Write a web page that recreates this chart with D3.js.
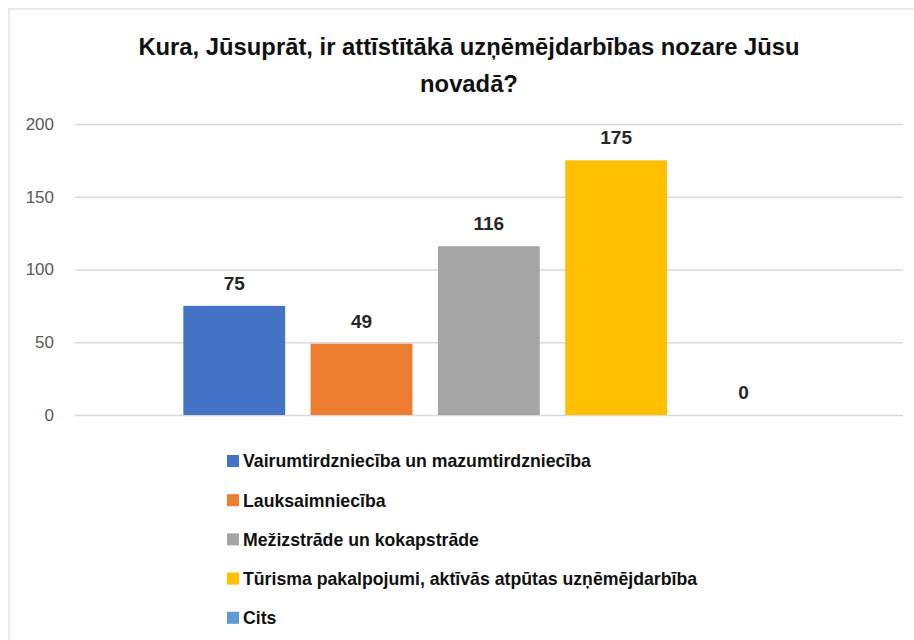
<!DOCTYPE html>
<html>
<head>
<meta charset="utf-8">
<script src="https://cdn.jsdelivr.net/npm/d3@7"></script>
<style>
  body { margin: 0; background: #fff; }
  text { font-family: "Liberation Sans", Arial, sans-serif; }
</style>
</head>
<body>
<svg></svg>
<script>
const width = 914;
const height = 640;

// dati
const categories = [
  "Vairumtirdzniecība un mazumtirdzniecība",
  "Lauksaimniecība",
  "Mežizstrāde un kokapstrāde",
  "Tūrisma pakalpojumi, aktīvās atpūtas uzņēmējdarbība",
  "Cits"
];
const values = [75, 49, 116, 175, 0];
const colors = ["#4472C4", "#ED7D31", "#A5A5A5", "#FFC000", "#5B9BD5"];
const yTicks = [0, 50, 100, 150, 200];
const titleLines = ["Kura, Jūsuprāt, ir attīstītākā uzņēmējdarbības nozare Jūsu", "novadā?"];

const svg = d3.select("svg")
  .attr("width", width)
  .attr("height", height);

// rāmis
svg.append("path")
  .attr("d", `M9,${height} L9,9 L${width},9`)
  .attr("fill", "none")
  .attr("stroke", "#e3e3e3")
  .attr("stroke-width", 1.5);

// virsraksts
svg.append("g")
  .selectAll("text")
  .data(titleLines)
  .join("text")
  .attr("x", 469)
  .attr("y", (d, i) => 55 + i * 37)
  .attr("text-anchor", "middle")
  .attr("font-size", 23.8)
  .attr("font-weight", "bold")
  .attr("fill", "#111")
  .text(d => d);

// skalas
const y = d3.scaleLinear().domain([0, 200]).range([415, 124]);
const x = d3.scaleBand()
  .domain(categories)
  .range([170.6, 807.1])
  .paddingInner(0.2)
  .paddingOuter(0.1);

// režģis
const yAxis = svg.append("g")
  .attr("transform", "translate(75,0)")
  .call(d3.axisLeft(y).tickValues(yTicks).tickSize(-828).tickPadding(21));
yAxis.select(".domain").remove();
yAxis.selectAll(".tick line").attr("stroke", "#d9d9d9").attr("stroke-width", 1.5);
yAxis.selectAll(".tick text")
  .attr("font-size", 17)
  .attr("fill", "#595959")
  .attr("font-family", "Liberation Sans, Arial, sans-serif");

// stabiņi
svg.append("g")
  .selectAll("rect")
  .data(values)
  .join("rect")
  .attr("x", (d, i) => x(categories[i]))
  .attr("y", d => y(d))
  .attr("width", x.bandwidth())
  .attr("height", d => y(0) - y(d))
  .attr("fill", (d, i) => colors[i]);

// vērtības
svg.append("g")
  .selectAll("text")
  .data(values)
  .join("text")
  .attr("x", (d, i) => x(categories[i]) + x.bandwidth() / 2)
  .attr("y", d => y(d) - 16)
  .attr("text-anchor", "middle")
  .attr("font-size", 19)
  .attr("font-weight", "bold")
  .attr("fill", "#262626")
  .text(d => d);

// leģenda
const legend = svg.append("g")
  .selectAll("g")
  .data(categories)
  .join("g")
  .attr("transform", (d, i) => `translate(227,${461 + i * 39.2})`);

legend.append("rect")
  .attr("x", 0)
  .attr("y", -6)
  .attr("width", 12)
  .attr("height", 12)
  .attr("fill", (d, i) => colors[i]);

legend.append("text")
  .attr("x", 16)
  .attr("dy", "0.36em")
  .attr("font-size", 17.7)
  .attr("font-weight", "bold")
  .attr("fill", "#111")
  .text(d => d);
</script>
</body>
</html>
